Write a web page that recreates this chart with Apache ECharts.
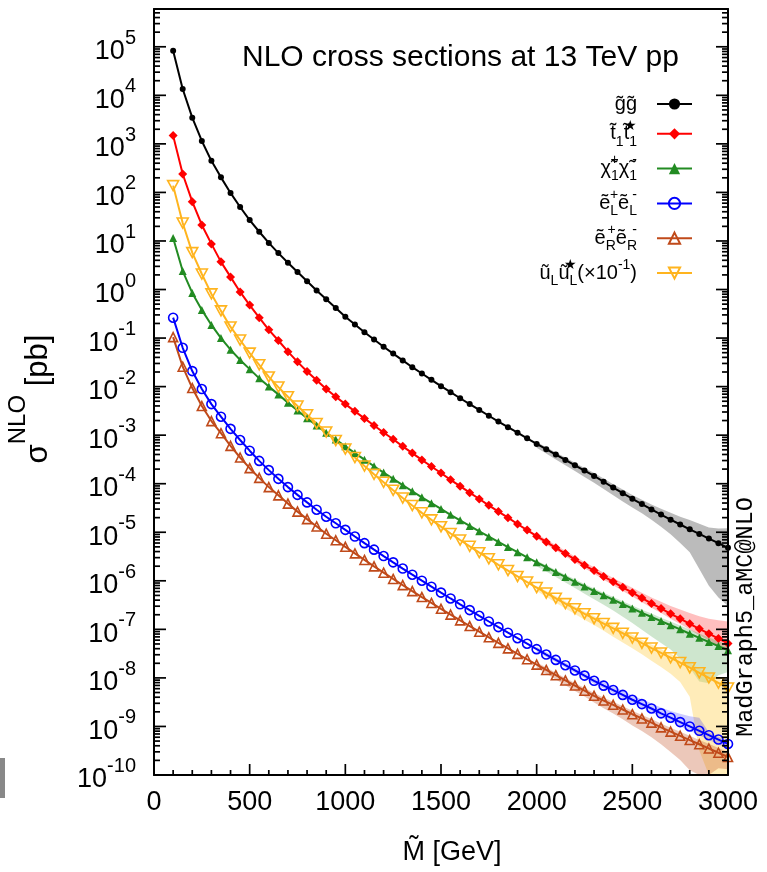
<!DOCTYPE html>
<html>
<head>
<meta charset="utf-8">
<script src="https://cdn.jsdelivr.net/npm/echarts@6/dist/echarts.min.js"></script>
<style>
html,body{margin:0;padding:0;background:#fff;}
#chart{width:767px;height:872px;}
</style>
</head>
<body>
<div id="chart"></div>
<script>
// ---- data (mass points in GeV, cross sections given as log10(sigma / pb)) ----
const massGeV = [
  100,150,200,250,300,350,400,450,500,550,
  600,650,700,750,800,850,900,950,1000,1050,
  1100,1150,1200,1250,1300,1350,1400,1450,1500,1550,
  1600,1650,1700,1750,1800,1850,1900,1950,2000,2050,
  2100,2150,2200,2250,2300,2350,2400,2450,2500,2550,
  2600,2650,2700,2750,2800,2850,2900,2950,3000
];
const gluinoLog10 = [
  4.92,4.13,3.54,3.06,2.65,2.31,1.99,1.70,1.43,1.19,
  0.96,0.75,0.55,0.36,0.17,-0.02,-0.20,-0.38,-0.56,-0.72,
  -0.88,-1.03,-1.18,-1.32,-1.46,-1.60,-1.73,-1.86,-1.99,-2.115,
  -2.24,-2.36,-2.48,-2.60,-2.72,-2.835,-2.95,-3.065,-3.18,-3.29,
  -3.40,-3.51,-3.62,-3.73,-3.84,-3.96,-4.08,-4.195,-4.31,-4.42,
  -4.53,-4.635,-4.74,-4.84,-4.94,-5.035,-5.13,-5.225,-5.32
];
const stopLog10 = [
  3.17,2.38,1.81,1.33,0.94,0.57,0.26,-0.05,-0.32,-0.58,
  -0.83,-1.05,-1.28,-1.49,-1.69,-1.87,-2.05,-2.21,-2.36,-2.51,
  -2.655,-2.80,-2.945,-3.085,-3.23,-3.37,-3.51,-3.645,-3.78,-3.92,
  -4.05,-4.185,-4.315,-4.445,-4.575,-4.70,-4.83,-4.955,-5.08,-5.20,
  -5.32,-5.44,-5.56,-5.68,-5.79,-5.91,-6.02,-6.135,-6.245,-6.355,
  -6.465,-6.57,-6.68,-6.78,-6.885,-6.99,-7.09,-7.19,-7.29
];
const charginoLog10 = [
  1.06,0.38,-0.07,-0.42,-0.73,-1.00,-1.24,-1.45,-1.64,-1.83,
  -2.00,-2.16,-2.33,-2.49,-2.65,-2.80,-2.95,-3.09,-3.23,-3.37,
  -3.505,-3.64,-3.77,-3.90,-4.03,-4.155,-4.28,-4.40,-4.52,-4.64,
  -4.755,-4.87,-4.98,-5.09,-5.20,-5.305,-5.41,-5.515,-5.62,-5.72,
  -5.82,-5.92,-6.02,-6.115,-6.21,-6.30,-6.39,-6.48,-6.57,-6.66,
  -6.745,-6.83,-6.915,-7.00,-7.09,-7.175,-7.26,-7.345,-7.43
];
const selectronLLog10 = [
  -0.58,-1.20,-1.68,-2.05,-2.36,-2.62,-2.87,-3.10,-3.32,-3.53,
  -3.72,-3.90,-4.07,-4.23,-4.385,-4.535,-4.68,-4.815,-4.95,-5.088,
  -5.224,-5.358,-5.49,-5.62,-5.748,-5.874,-5.998,-6.121,-6.243,-6.364,
  -6.484,-6.603,-6.721,-6.838,-6.954,-7.069,-7.183,-7.296,-7.408,-7.519,
  -7.629,-7.738,-7.846,-7.953,-8.059,-8.16,-8.25,-8.35,-8.45,-8.54,
  -8.63,-8.73,-8.82,-8.91,-9.00,-9.09,-9.18,-9.27,-9.36
];
const selectronRLog10 = [
  -0.98,-1.59,-2.03,-2.40,-2.71,-2.96,-3.22,-3.46,-3.68,-3.88,
  -4.07,-4.24,-4.41,-4.575,-4.73,-4.88,-5.03,-5.165,-5.30,-5.436,
  -5.57,-5.703,-5.833,-5.962,-6.088,-6.212,-6.335,-6.456,-6.577,-6.696,
  -6.815,-6.932,-7.049,-7.164,-7.279,-7.392,-7.505,-7.616,-7.726,-7.836,
  -7.944,-8.052,-8.158,-8.264,-8.369,-8.467,-8.554,-8.651,-8.748,-8.835,
  -8.922,-9.019,-9.106,-9.193,-9.28,-9.367,-9.454,-9.542,-9.63
];
const squarkLog10 = [
  2.14,1.37,0.76,0.32,-0.09,-0.44,-0.77,-1.04,-1.31,-1.55,
  -1.80,-2.01,-2.21,-2.40,-2.58,-2.76,-2.935,-3.11,-3.285,-3.46,
  -3.635,-3.805,-3.97,-4.135,-4.295,-4.45,-4.60,-4.745,-4.885,-5.025,
  -5.16,-5.29,-5.42,-5.545,-5.67,-5.79,-5.91,-6.025,-6.14,-6.25,
  -6.36,-6.47,-6.575,-6.68,-6.78,-6.88,-6.98,-7.08,-7.18,-7.285,
  -7.385,-7.485,-7.585,-7.685,-7.79,-7.895,-8.00,-8.105,-8.21
];

// uncertainty bands (log10 offsets) for M = 2000 ... 3000 GeV in 50 GeV steps
const bandStartMass = 2000;
const gluinoBandUp   = [0.04,0.04,0.045,0.05,0.05,0.055,0.06,0.065,0.07,0.075,0.08,0.09,0.10,0.12,0.14,0.16,0.19,0.21,0.23,0.30,0.40];
const gluinoBandDown = [-0.08,-0.09,-0.10,-0.11,-0.12,-0.13,-0.14,-0.15,-0.16,-0.17,-0.18,-0.19,-0.21,-0.25,-0.30,-0.38,-0.47,-0.72,-0.97,-1.12,-1.20];
const stopBandUp     = [0.05,0.05,0.055,0.06,0.06,0.065,0.07,0.075,0.08,0.09,0.10,0.11,0.12,0.14,0.16,0.19,0.22,0.26,0.31,0.38,0.45];
const stopBandDown   = [-0.05,-0.05,-0.05,-0.055,-0.06,-0.06,-0.065,-0.07,-0.07,-0.075,-0.08,-0.085,-0.09,-0.095,-0.10,-0.11,-0.12,-0.13,-0.14,-0.15,-0.16];
const charginoBandUp   = [0.04,0.04,0.045,0.045,0.05,0.05,0.05,0.055,0.055,0.06,0.06,0.065,0.07,0.07,0.075,0.08,0.085,0.09,0.09,0.10,0.10];
const charginoBandDown = [-0.08,-0.09,-0.10,-0.115,-0.13,-0.15,-0.17,-0.195,-0.22,-0.26,-0.30,-0.35,-0.40,-0.45,-0.50,-0.60,-0.70,-0.90,-0.85,-0.60,-0.45];
const squarkBandUp   = [0.04,0.04,0.045,0.05,0.05,0.05,0.055,0.06,0.06,0.065,0.07,0.07,0.075,0.08,0.08,0.085,0.09,0.09,0.10,0.10,0.10];
const squarkBandDown = [-0.07,-0.08,-0.09,-0.10,-0.11,-0.12,-0.13,-0.15,-0.17,-0.19,-0.21,-0.23,-0.26,-0.29,-0.33,-0.40,-0.60,-1.60,-2.50,-2.50,-2.50];
const selLBandUp   = [0.05,0.05,0.05,0.055,0.06,0.06,0.065,0.07,0.075,0.08,0.09,0.10,0.11,0.12,0.14,0.17,0.21,0.27,0.06,0.06,0.06];
const selLBandDown = [-0.05,-0.05,-0.05,-0.05,-0.055,-0.055,-0.06,-0.06,-0.065,-0.065,-0.07,-0.07,-0.075,-0.08,-0.08,-0.085,-0.09,-0.09,-0.10,-0.10,-0.10];
const selRBandUp   = [0.05,0.05,0.05,0.05,0.055,0.055,0.06,0.06,0.065,0.065,0.07,0.07,0.075,0.08,0.08,0.085,0.09,0.09,0.10,0.10,0.10];
const selRBandDown = [-0.07,-0.08,-0.09,-0.10,-0.11,-0.12,-0.14,-0.16,-0.18,-0.20,-0.23,-0.26,-0.30,-0.35,-0.42,-0.50,-0.62,-0.80,-1.00,-0.32,-0.25];

// axis ticks / labels
const xTickValues = [0,500,1000,1500,2000,2500,3000];
const yExponents = [-10,-9,-8,-7,-6,-5,-4,-3,-2,-1,0,1,2,3,4,5];
const yMin = 0.9999e-10, yMax = 6e5;
const xMin = 0, xMax = 3000;

// legend labels (rich text)
const legendLabels = {
  gg: '{b|g\u0303g\u0303}{sp| }',
  tt: '{b|t\u0303}{sub|1}{b|t\u0303}{sub|1}{supz|\u2605}{sp| }',
  cc: '{b|\u03c7\u0303}{sub|1}{supz|+}{b|\u03c7\u0303}{sub|1}{supz|-}{sp| }',
  eL: '{b|\u1ebd}{sub|L}{supz|+}{b|\u1ebd}{sub|L}{supz|-}{sp| }',
  eR: '{b|\u1ebd}{sub|R}{supz|+}{b|\u1ebd}{sub|R}{supz|-}{sp| }',
  uL: '{b|\u0169}{sub|L}{b|\u0169}{sub|L}{supz|\u2605}{b|(\u00d710}{sup|-1}{b|)}{sp| }'
};

const FONT = 'Liberation Sans';
const bandStart = massGeV.indexOf(bandStartMass);

function makeBand(logVals, up, down, color) {
  const pts = up.map((u, i) => {
    const k = bandStart + i;
    return [massGeV[k], Math.pow(10, logVals[k] + u), Math.pow(10, logVals[k] + down[i])];
  });
  return {
    type: 'custom', silent: true, clip: true, z: 1,
    encode: {x: 0, y: [1, 2]},
    data: pts,
    renderItem: function (params, api) {
      if (params.dataIndex !== 0) return null;
      const top = pts.map(p => api.coord([p[0], p[1]]));
      const bot = pts.map(p => api.coord([p[0], Math.max(p[2], yMin)])).reverse();
      return {type: 'polygon', shape: {points: top.concat(bot)}, style: {fill: color}};
    }
  };
}

function makeLine(name, logVals, color, symbol, size, filled) {
  return {
    type: 'line', name: name, z: 3,
    data: massGeV.map((m, i) => [m, Math.pow(10, logVals[i])]),
    symbol: symbol, symbolSize: size, showSymbol: true, showAllSymbol: true,
    lineStyle: {color: color, width: 2},
    itemStyle: filled ? {color: color, borderWidth: 0}
                      : {color: 'rgba(255,255,255,0)', borderColor: color, borderWidth: 1.6},
    emphasis: {disabled: true},
    animation: false
  };
}

// tick marks drawn inward from the frame, positioned through the axis scales
function makeTicks(points, dx, dy) {
  return {
    type: 'custom', silent: true, clip: false, z: 6,
    encode: {x: 0, y: 1},
    data: points,
    renderItem: function (params, api) {
      const p = api.coord([api.value(0), api.value(1)]);
      return {type: 'line', shape: {x1: p[0], y1: p[1], x2: p[0] + dx, y2: p[1] + dy},
              style: {stroke: '#000', lineWidth: 1.7}};
    }
  };
}

const majorVals = yExponents.map(e => Math.pow(10, e));
const minorVals = [];
yExponents.forEach(e => { for (let m = 2; m <= 9; m++) { const v = m * Math.pow(10, e); if (v < yMax) minorVals.push(v); } });
const xMinorVals = [];
for (let m = 100; m < xMax; m += 100) { if (m % 500 !== 0) xMinorVals.push(m); }

const chart = echarts.init(document.getElementById('chart'), null, {renderer: 'canvas'});
chart.setOption({
  animation: false,
  backgroundColor: '#fff',
  grid: {left: 154, right: 39, top: 9, bottom: 97, show: false, outerBoundsMode: 'none', containLabel: false},
  xAxis: [
    {
      type: 'value', min: xMin, max: xMax, interval: 500, position: 'bottom', z: 5,
      axisLine: {show: true, onZero: false, lineStyle: {color: '#000', width: 2}},
      axisTick: {show: false}, minorTick: {show: false},
      splitLine: {show: false}, minorSplitLine: {show: false},
      axisLabel: {color: '#000', fontSize: 27, fontFamily: FONT, margin: 14,
                  showMinLabel: true, showMaxLabel: true,
                  formatter: v => (xTickValues.indexOf(v) >= 0 ? String(v) : '')},
      name: 'M\u0303 [GeV]', nameLocation: 'middle', nameGap: 64,
      nameTextStyle: {color: '#000', fontSize: 27, fontFamily: FONT, padding: [0, 0, 0, 22]}
    },
    {
      type: 'value', min: xMin, max: xMax, position: 'top', z: 5,
      axisLine: {show: true, onZero: false, lineStyle: {color: '#000', width: 2}},
      axisTick: {show: false}, axisLabel: {show: false}, splitLine: {show: false}
    }
  ],
  yAxis: [
    {
      type: 'log', min: yMin, max: yMax, position: 'left', z: 5,
      splitLine: {show: false}, minorSplitLine: {show: false},
      axisLine: {show: true, onZero: false, lineStyle: {color: '#000', width: 2}},
      axisTick: {show: false}, minorTick: {show: false},
      axisLabel: {
        show: true, margin: 18, color: '#000', fontFamily: FONT, customValues: majorVals,
        formatter: v => '{b|10}{s|' + Math.round(Math.log10(v)) + '}',
        rich: {
          b: {fontSize: 27, fontFamily: FONT, color: '#000', lineHeight: 37, verticalAlign: 'bottom'},
          s: {fontSize: 20, fontFamily: FONT, color: '#000', lineHeight: 37, verticalAlign: 'top'}
        }
      },
      name: '{b|\u03c3}{s|NLO}{b| [pb]}', nameLocation: 'middle', nameRotate: 90, nameGap: 100,
      nameTextStyle: {
        color: '#000', fontFamily: FONT, padding: [0, 14, 0, 0],
        rich: {
          b: {fontSize: 31, fontFamily: FONT, color: '#000', lineHeight: 48, verticalAlign: 'bottom'},
          s: {fontSize: 24, fontFamily: FONT, color: '#000', lineHeight: 48, verticalAlign: 'top'}
        }
      }
    },
    {
      type: 'log', min: yMin, max: yMax, position: 'right', z: 5,
      splitLine: {show: false},
      axisLine: {show: true, onZero: false, lineStyle: {color: '#000', width: 2}},
      axisTick: {show: false}, axisLabel: {show: false}
    }
  ],
  legend: {
    show: true, orient: 'vertical', right: 74, top: 94, padding: 0,
    align: 'right', itemWidth: 35, itemHeight: 14, itemGap: 4.8,
    data: ['gg', 'tt', 'cc', 'eL', 'eR', 'uL'],
    formatter: n => legendLabels[n],
    selectedMode: false,
    textStyle: {
      color: '#000', fontFamily: FONT, fontSize: 20, width: 170, align: 'right',
      rich: {
        b: {fontSize: 20, fontFamily: FONT, color: '#000', lineHeight: 30, verticalAlign: 'middle'},
        sub: {fontSize: 14, fontFamily: FONT, color: '#000', lineHeight: 30, verticalAlign: 'bottom'},
        sup: {fontSize: 14, fontFamily: FONT, color: '#000', lineHeight: 30, verticalAlign: 'top'},
        supz: {fontSize: 14, fontFamily: FONT, color: '#000', lineHeight: 30, verticalAlign: 'top', width: 0},
        sp: {fontSize: 14, fontFamily: FONT, lineHeight: 30, width: 15}
      }
    }
  },
  graphic: [
    {type: 'text', left: 242, top: 43, z: 10,
     style: {text: 'NLO cross sections at 13 TeV pp', font: '30px "Liberation Sans"', fill: '#000'}},
    {type: 'text', x: 746, y: 617, rotation: Math.PI / 2, z: 10,
     style: {text: 'MadGraph5_aMC@NLO', font: '23.5px "Liberation Mono"', fill: '#000',
             align: 'center', verticalAlign: 'middle'}},
    {type: 'rect', shape: {x: 0, y: 758, width: 5, height: 40}, style: {fill: '#888'}}
  ],
  series: [
    makeBand(gluinoLog10, gluinoBandUp, gluinoBandDown, 'rgba(120,120,120,0.5)'),
    makeBand(stopLog10, stopBandUp, stopBandDown, 'rgba(255,0,0,0.25)'),
    makeBand(charginoLog10, charginoBandUp, charginoBandDown, 'rgba(34,139,34,0.22)'),
    makeBand(squarkLog10, squarkBandUp, squarkBandDown, 'rgba(255,205,70,0.38)'),
    makeBand(selectronLLog10, selLBandUp, selLBandDown, 'rgba(0,0,255,0.2)'),
    makeBand(selectronRLog10, selRBandUp, selRBandDown, 'rgba(192,74,26,0.3)'),
    makeLine('gg', gluinoLog10, '#000000', 'circle', 6, true),
    makeLine('tt', stopLog10, '#ff0000', 'diamond', 9, true),
    makeLine('cc', charginoLog10, '#228b22', 'triangle', 8, true),
    makeLine('eL', selectronLLog10, '#0000ff', 'circle', 9, false),
    makeLine('eR', selectronRLog10, '#c04a1a', 'triangle', 9, false),
    makeLine('uL', squarkLog10, '#ffb41e', 'path://M0,0L10,0L5,9Z', [11, 10], false),
    makeTicks(majorVals.map(v => [xMin, v]), 12, 0),
    makeTicks(minorVals.map(v => [xMin, v]), 6, 0),
    makeTicks(majorVals.map(v => [xMax, v]), -12, 0),
    makeTicks(minorVals.map(v => [xMax, v]), -6, 0),
    makeTicks(xTickValues.map(m => [m, yMin]), 0, -11),
    makeTicks(xMinorVals.map(m => [m, yMin]), 0, -5)
  ]
});
</script>
</body>
</html>
